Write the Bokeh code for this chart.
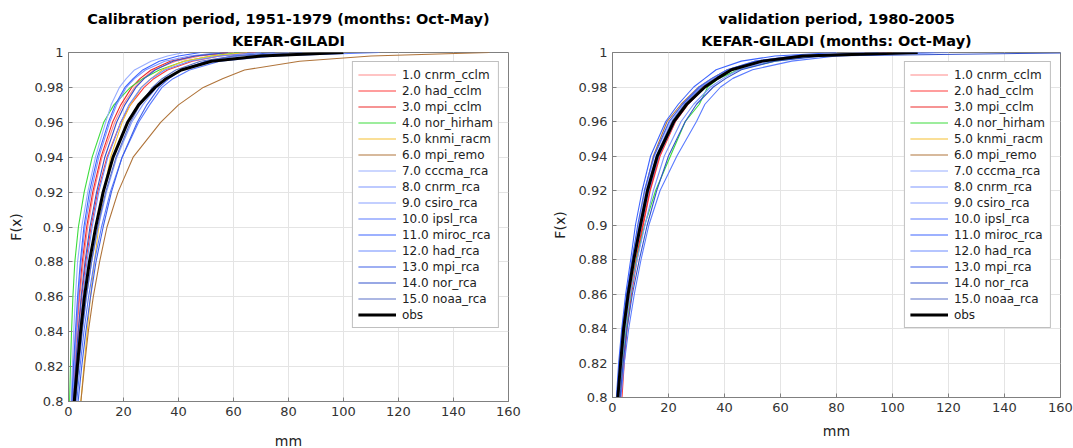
from bokeh.plotting import figure
from bokeh.layouts import row
from bokeh.models import Title, Legend, LegendItem, Range1d, FixedTicker, CustomJSTickFormatter
from bokeh.embed import file_html
from bokeh.resources import INLINE

# cumulative probability levels F(x)
f_levels = [0.80, 0.82, 0.84, 0.86, 0.88, 0.90, 0.92, 0.94, 0.96, 0.97, 0.98, 0.985, 0.99, 0.995, 0.998, 1.0]

names = ["1.0 cnrm_cclm", "2.0 had_cclm", "3.0 mpi_cclm", "4.0 nor_hirham", "5.0 knmi_racm",
         "6.0 mpi_remo", "7.0 cccma_rca", "8.0 cnrm_rca", "9.0 csiro_rca", "10.0 ipsl_rca",
         "11.0 miroc_rca", "12.0 had_rca", "13.0 mpi_rca", "14.0 nor_rca", "15.0 noaa_rca"]

# ---- calibration period (mm at each F level)
cal_cnrm_cclm = [1.6, 2.3, 3.1, 4.1, 5.4, 7.0, 9.2, 12.2, 16.8, 19.8, 24, 27, 31, 39, 48, 60]
cal_had_cclm = [1.9, 2.7, 3.6, 4.8, 6.3, 8.2, 10.6, 14, 19, 22.5, 27.5, 31, 36, 45, 55, 68]
cal_mpi_cclm = [1.4, 2.0, 2.8, 3.8, 5.0, 6.6, 8.8, 11.8, 16, 19, 23, 26, 30, 37, 46, 58]
cal_nor_hirham = [0.4, 0.7, 1.1, 1.6, 2.3, 3.6, 5.7, 8.6, 12.8, 16.5, 22.5, 27, 33, 42, 52, 62]
cal_knmi_racm = [4.5, 5.6, 6.8, 8.0, 9.4, 11, 12.8, 15.3, 19.5, 22.5, 26.5, 30, 34, 42, 52, 65]
cal_mpi_remo = [4.5, 5.8, 7.2, 9.0, 11.3, 14.0, 18.0, 23.5, 33.5, 40, 49, 56, 64, 84, 110, 153]
cal_cccma_rca = [1.0, 1.4, 1.9, 2.5, 3.3, 4.8, 7.0, 9.8, 13.5, 15.5, 18.5, 21, 24, 30, 36, 42]
cal_cnrm_rca = [1.5, 2.1, 2.8, 3.6, 4.6, 6.0, 8.2, 11, 15, 17.5, 21, 24, 28, 35, 44, 55]
cal_csiro_rca = [2.5, 3.6, 4.9, 6.5, 8.4, 10.8, 13.8, 17.6, 23, 27, 32, 36, 41, 50, 62, 80]
cal_ipsl_rca = [3.0, 4.2, 5.6, 7.3, 9.4, 12, 15.2, 19.5, 25.5, 29.5, 34, 38, 44, 55, 75, 113]
cal_miroc_rca = [1.2, 1.8, 2.5, 3.3, 4.3, 5.6, 7.6, 10.5, 14.5, 17, 20.5, 23.5, 27, 33, 40, 48]
cal_had_rca = [2.0, 2.9, 4.0, 5.2, 6.7, 8.6, 11, 14.3, 19, 22, 26.5, 30, 35, 44, 55, 70]
cal_mpi_rca = [3.5, 4.8, 6.3, 8.0, 10.0, 12.6, 15.6, 19.5, 25, 28.5, 33, 36.5, 41, 50, 60, 75]
cal_nor_rca = [1.8, 2.6, 3.5, 4.6, 6.0, 7.8, 10.2, 13.2, 17.5, 20.5, 24.5, 27.5, 31.5, 38, 46, 58]
cal_noaa_rca = [2.6, 3.7, 5.0, 6.5, 8.4, 10.6, 13.5, 17.3, 22.5, 26, 30.5, 34, 39, 48, 60, 85]
cal_obs = [2.1, 3.2, 4.4, 5.8, 7.6, 9.9, 12.6, 16.2, 21.5, 25.5, 31.5, 35.5, 41, 52, 70, 100]

# ---- validation period (mm at each F level)
val_cnrm_cclm = [2.2, 3.2, 4.4, 6.0, 8.2, 10.6, 13.2, 16.8, 22.5, 27, 33, 37.5, 43, 54, 70, 100]
val_had_cclm = [3.4, 4.2, 5.2, 6.8, 8.8, 11.0, 13.5, 17, 22.5, 27, 33, 37, 42, 52, 66, 95]
val_mpi_cclm = [2.8, 3.7, 4.8, 6.4, 8.4, 10.8, 13.3, 16.6, 22, 26.5, 32.5, 37, 42.5, 53, 68, 98]
val_nor_hirham = [2.5, 3.5, 4.8, 6.5, 8.6, 11.5, 15.4, 20.7, 26, 31, 34, 38, 45, 58, 72, 95]
val_knmi_racm = [2.0, 3.0, 4.2, 5.8, 7.8, 10.2, 12.8, 16.3, 22, 26.5, 32.5, 37, 43, 54, 70, 105]
val_mpi_remo = [1.9, 2.8, 3.9, 5.3, 7.2, 9.3, 11.6, 14.6, 19.5, 24.5, 30.8, 35.5, 41, 52, 66, 100]
val_cccma_rca = [1.5, 2.4, 3.5, 5.0, 7.0, 9.3, 11.8, 15, 20.5, 25, 31, 35.5, 41, 51, 64, 90]
val_cnrm_rca = [2.4, 3.4, 4.6, 6.4, 8.8, 11.6, 14.6, 18.5, 24.5, 29, 35, 39.5, 45, 56, 72, 110]
val_csiro_rca = [1.7, 2.6, 3.7, 5.2, 7.2, 9.6, 12.2, 15.6, 21, 25.5, 31.5, 36, 41.5, 52, 66, 98]
val_ipsl_rca = [3.0, 4.2, 5.8, 7.8, 10.2, 13.0, 17, 23, 30, 33, 38.6, 43, 50, 64, 80, 115]
val_miroc_rca = [1.4, 2.2, 3.3, 4.7, 6.5, 8.2, 10.6, 13.6, 19, 23.5, 29, 33, 37, 46, 58, 80]
val_had_rca = [2.1, 3.0, 4.2, 5.8, 7.9, 10.4, 13.0, 16.5, 22.3, 26.8, 33, 37.5, 43, 54, 70, 120]
val_mpi_rca = [1.6, 2.5, 3.6, 5.1, 7.0, 9.0, 11.4, 14.8, 20.2, 25, 31, 35.5, 41, 51, 65, 95]
val_nor_rca = [2.7, 3.8, 5.2, 7.1, 9.6, 12.4, 15.8, 20, 26, 30, 36, 40.5, 46, 58, 75, 175]
val_noaa_rca = [1.8, 2.7, 3.9, 5.4, 7.4, 9.8, 12.4, 15.8, 21.3, 25.8, 32, 36.5, 42, 53, 68, 105]
val_obs = [1.9, 2.9, 4.0, 5.6, 7.6, 10.0, 12.5, 16.0, 21.9, 26.5, 33, 37.5, 42.5, 53.5, 68, 109]

y_ticks = [0.8, 0.82, 0.84, 0.86, 0.88, 0.9, 0.92, 0.94, 0.96, 0.98, 1.0]
x_ticks = [0, 20, 40, 60, 80, 100, 120, 140, 160]

colors = ["#ff8a8a", "#ff3c3c", "#ee2a2a", "#3ddc3d", "#f5c030", "#b0743a",
          "#98adff", "#7d96ff", "#889fff", "#5a7bff", "#3d64ff", "#6d8bff",
          "#3f60e8", "#3352cc", "#5a70c8"]

cal_series = [cal_cnrm_cclm, cal_had_cclm, cal_mpi_cclm, cal_nor_hirham, cal_knmi_racm,
              cal_mpi_remo, cal_cccma_rca, cal_cnrm_rca, cal_csiro_rca, cal_ipsl_rca,
              cal_miroc_rca, cal_had_rca, cal_mpi_rca, cal_nor_rca, cal_noaa_rca]
val_series = [val_cnrm_cclm, val_had_cclm, val_mpi_cclm, val_nor_hirham, val_knmi_racm,
              val_mpi_remo, val_cccma_rca, val_cnrm_rca, val_csiro_rca, val_ipsl_rca,
              val_miroc_rca, val_had_rca, val_mpi_rca, val_nor_rca, val_noaa_rca]

FONT = "DejaVu Sans"
fmt = CustomJSTickFormatter(code="var s = tick.toFixed(2); s = s.replace(/0+$/, ''); s = s.replace(/\\.$/, ''); return s;")


def make_plot(series, obs, title1, title2, bl, fw, br, fh, bb, xl_standoff):
    p = figure(frame_width=fw, frame_height=fh, min_border_left=bl, min_border_right=br,
               min_border_top=52, min_border_bottom=bb, output_backend="svg",
               toolbar_location=None, title=None,
               x_range=Range1d(0, 160), y_range=Range1d(0.8, 1.0))
    p.add_layout(Title(text=title2, align="center", text_font=FONT, text_font_size="14.5px",
                       text_font_style="bold", text_color="#000000", standoff=7, offset=0), "above")
    p.add_layout(Title(text=title1, align="center", text_font=FONT, text_font_size="14.5px",
                       text_font_style="bold", text_color="#000000", standoff=1, offset=0), "above")
    items = []
    for s, nm, c in zip(series, names, colors):
        r = p.line(s, f_levels, line_color=c, line_width=1.1)
        items.append(LegendItem(label=nm, renderers=[r]))
    ro = p.line(obs, f_levels, line_color="#000000", line_width=3)
    items.append(LegendItem(label="obs", renderers=[ro]))

    for ax in (p.xaxis[0], p.yaxis[0]):
        ax.axis_line_color = "#808080"
        ax.major_tick_line_color = "#808080"
        ax.major_tick_in = 4
        ax.major_tick_out = 0
        ax.minor_tick_line_color = None
        ax.major_label_text_font = FONT
        ax.major_label_text_font_size = "13px"
        ax.major_label_text_color = "#333333"
        ax.axis_label_text_font = FONT
        ax.axis_label_text_font_size = "14px"
        ax.axis_label_text_font_style = "normal"
        ax.axis_label_text_color = "#222222"
    p.xaxis[0].ticker = FixedTicker(ticks=x_ticks)
    p.yaxis[0].ticker = FixedTicker(ticks=y_ticks)
    p.yaxis[0].formatter = fmt
    p.xaxis[0].axis_label = "mm"
    p.yaxis[0].axis_label = "F(x)"
    p.xaxis[0].axis_label_standoff = xl_standoff
    p.yaxis[0].axis_label_standoff = 8
    p.outline_line_color = "#808080"
    p.xgrid.grid_line_color = "#e4e4e4"
    p.ygrid.grid_line_color = "#e4e4e4"
    p.background_fill_color = "#ffffff"

    leg = Legend(items=items, location="top_right", margin=9, padding=5, spacing=1,
                 glyph_width=38, glyph_height=15, label_height=15,
                 label_text_font=FONT, label_text_font_size="12px", label_text_color="#222222",
                 label_standoff=6, border_line_color="#808080", background_fill_alpha=1.0)
    p.add_layout(leg, "center")
    return p


p1 = make_plot(cal_series, cal_obs, "Calibration period, 1951-1979 (months: Oct-May)",
               "KEFAR-GILADI", 68, 440, 32, 349, 47, 14)
p2 = make_plot(val_series, val_obs, "validation period, 1980-2005",
               "KEFAR-GILADI (months: Oct-May)", 72, 448, 13, 345, 51, 8)

layout = row(p1, p2)
open("out.html", "w").write(file_html(layout, INLINE))
